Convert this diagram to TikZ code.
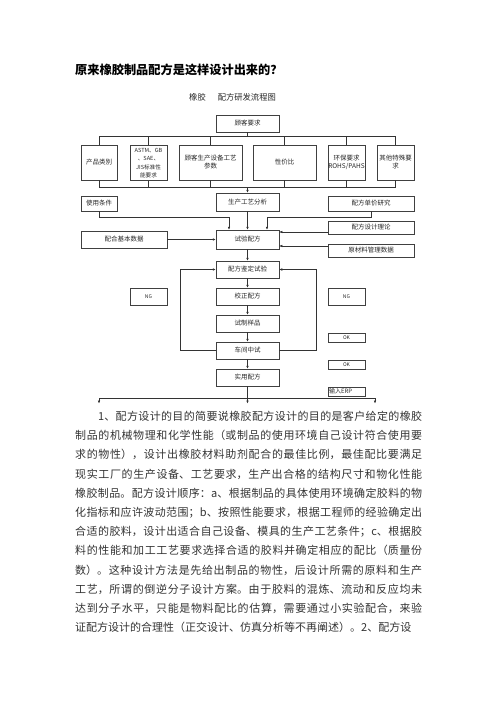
\documentclass[tikz,border=0pt]{standalone}
\usepackage{fontspec}
\setmainfont{Noto Sans CJK SC}
\usetikzlibrary{arrows.meta}
\XeTeXlinebreaklocale "zh"
\XeTeXlinebreakskip=0pt plus 2pt

\newcommand{\boxfont}{\fontsize{6.5}{8}\selectfont}
\newcommand{\bodyfont}{\fontsize{11}{19.2}\selectfont}

\tikzset{
    box/.style={draw=black!75, line width=0.5pt, inner sep=0pt, align=center, font=\boxfont, text=black!85},
    ln/.style={line width=0.5pt, draw=black!80},
    arr/.style={ln, -{Latex[length=3pt,width=2.6pt]}},
}

\begin{document}
\begin{tikzpicture}[x=1pt,y=-1pt]
                    \useasboundingbox (0,0) rectangle (496,702);

                    \node[anchor=base west, inner sep=0, font=\fontsize{12.2}{14}\selectfont\bfseries] (title) at (75,74.5) {原来橡胶制品配方是这样设计出来的？};
                    \node[anchor=base west, inner sep=0, font=\fontsize{8.3}{10}\selectfont, text=black!85] (sub) at (189,100) {橡胶\hspace{12pt}配方研发流程图};

                    % requirements
                    \node[box, minimum width=63pt, minimum height=17pt] (req) at (247.5,123.5) {顾客要求};
                    \node[box, minimum width=36pt, minimum height=35pt] (cat) at (99,162.5) {产品类别};
                    \node[box, minimum width=37pt, minimum height=35pt, font=\fontsize{5.6}{8.3}\selectfont] (std) at (148.5,163) {ASTM、GB\\、SAE、\\JIS标准性\\能要求};
                    \node[box, minimum width=63pt, minimum height=35pt] (equip) at (210.5,162.5) {顾客生产设备工艺\\参数};
                    \node[box, minimum width=63pt, minimum height=35pt] (price) at (284.5,162.5) {性价比};
                    \node[box, minimum width=37pt, minimum height=35pt] (env) at (346.5,162.5) {环保要求\\ROHS/PAHS};
                    \node[box, minimum width=37pt, minimum height=35pt] (other) at (395.5,162.5) {其他特殊要\\求};

                    \coordinate (topbus) at (0,136);
                    \coordinate (midbus) at (0,187);
                    \draw[ln] (req.south) -- (req.south |- topbus);
                    \draw[ln] (cat.north |- topbus) -- (other.north |- topbus);
                    \draw[ln] (cat.south |- midbus) -- (other.south |- midbus);
                    \foreach \n in {cat,std,equip,price,env,other} {
                        \draw[ln] (\n.north |- topbus) -- (\n.north);
                        \draw[ln] (\n.south) -- (\n.south |- midbus);
                    }

                    % analysis
                    \node[box, minimum width=36pt, minimum height=15pt] (cond) at (99,203.5) {使用条件};
                    \node[box, minimum width=63pt, minimum height=18pt] (proc) at (247.5,202) {生产工艺分析};
                    \node[box, minimum width=86pt, minimum height=15pt] (cost) at (371,203.5) {配方单价研究};
                    \draw[arr] (proc.north |- midbus) -- (proc.north);

                    \node[box, minimum width=86pt, minimum height=17pt] (base) at (124,239.5) {配合基本数据};
                    \node[box, minimum width=63pt, minimum height=19pt] (trial) at (247.5,239.5) {试验配方};
                    \node[box, minimum width=86pt, minimum height=13pt] (theory) at (371,227.5) {配方设计理论};
                    \node[box, minimum width=86pt, minimum height=13pt] (mat) at (371,250.5) {原材料管理数据};

                    \coordinate (split) at (0,217);
                    \draw[arr] (cond.south) -- (cond.south |- split) -| ([xshift=-18.5pt]trial.north);
                    \draw[arr] (cost.south) -- (cost.south |- split) -| ([xshift=19.5pt]trial.north);
                    \draw[arr] (proc) -- (trial);
                    \draw[arr] (base) -- (trial);
                    \draw[arr] (theory.west) ++(0,4.5) coordinate (t1) -- (t1 -| trial.east);
                    \draw[arr] (mat.west) ++(0,-4.5) coordinate (t2) -- (t2 -| trial.east);

                    % test chain
                    \node[box, minimum width=63pt, minimum height=17pt] (ident) at (247.5,269.5) {配方鉴定试验};
                    \node[box, minimum width=63pt, minimum height=17pt] (fix) at (247.5,296.5) {校正配方};
                    \node[box, minimum width=63pt, minimum height=17pt] (sample) at (247.5,323.5) {试制样品};
                    \node[box, minimum width=63pt, minimum height=17pt] (pilot) at (247.5,350.5) {车间中试};
                    \node[box, minimum width=63pt, minimum height=17pt] (final) at (247.5,377.5) {实用配方};

                    \node[box, minimum width=37pt, minimum height=17pt, font=\fontsize{5}{6}\selectfont] (ngL) at (148.5,296.5) {NG};
                    \node[box, minimum width=37pt, minimum height=17pt, font=\fontsize{5}{6}\selectfont] (ngR) at (346.5,296.5) {NG};
                    \node[box, minimum width=37pt, minimum height=9pt, font=\fontsize{5}{6}\selectfont] (okA) at (346.5,337.5) {OK};
                    \node[box, minimum width=37pt, minimum height=9pt, font=\fontsize{5}{6}\selectfont] (okB) at (346.5,364.5) {OK};
                    \node[box, minimum height=9pt, text width=35pt, inner xsep=1pt, align=left, font=\fontsize{6}{7}\selectfont] (erp) at (346.5,391.5) {输入ERP};

                    \foreach \a/\b in {trial/ident, ident/fix, fix/sample, sample/pilot, pilot/final}
                        \draw[arr] (\a) -- (\b);

                    \coordinate (loopL) at (180,0);
                    \coordinate (loopR) at (316,0);
                    \draw[arr] (pilot.west) -- (pilot.west -| loopL) |- (ident.west);
                    \draw[arr] (pilot.east) -- (pilot.east -| loopR) |- (ident.east);

                    \coordinate (lowbus) at (0,398);
                    \coordinate (outL) at (99,403.5);
                    \coordinate (outM) at (247.5,403.5);
                    \coordinate (outR) at (375,403.5);
                    \draw[ln] (final) -- (final |- lowbus);
                    \draw[ln] (outL |- lowbus) -- (outR |- lowbus);
                    \foreach \c in {outL,outM,outR}
                        \draw[arr] (\c |- lowbus) -- (\c);

                    % body text
                    \node[anchor=base west, inner sep=0, text width=347pt, align=justify, font=\bodyfont, text=black!80] (body) at (75,420.5) {\parfillskip=0pt\tolerance=9999\hspace*{23pt}1、配方设计的目的简要说橡胶配方设计的目的是客户给定的橡胶\linebreak
制品的机械物理和化学性能（或制品的使用环境自己设计符合使用要\linebreak
求的物性），设计出橡胶材料助剂配合的最佳比例，最佳配比要满足\linebreak
现实工厂的生产设备、工艺要求，生产出合格的结构尺寸和物化性能\linebreak
橡胶制品。配方设计顺序：a、根据制品的具体使用环境确定胶料的物\linebreak
化指标和应许波动范围；b、按照性能要求，根据工程师的经验确定出\linebreak
合适的胶料，设计出适合自己设备、模具的生产工艺条件；c、根据胶\linebreak
料的性能和加工工艺要求选择合适的胶料并确定相应的配比（质量份\linebreak
数）。这种设计方法是先给出制品的物性，后设计所需的原料和生产\linebreak
工艺，所谓的倒逆分子设计方案。由于胶料的混炼、流动和反应均未\linebreak
达到分子水平，只能是物料配比的估算，需要通过小实验配合，来验\linebreak
证配方设计的合理性（正交设计、仿真分析等不再阐述）。2、配方设};

                \end{tikzpicture}
\end{document}
